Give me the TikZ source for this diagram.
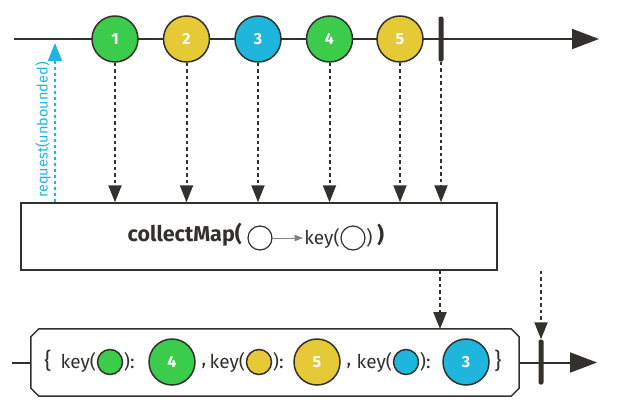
\documentclass[tikz,border=0pt]{standalone}
\usepackage{fontspec}
\setmainfont{Fira Sans}
\usetikzlibrary{positioning, arrows.meta}
\definecolor{mgreen}{HTML}{3ACC4A}
\definecolor{myellow}{HTML}{E5C936}
\definecolor{mblue}{HTML}{1FB6DE}
\definecolor{mdark}{HTML}{33312D}
\tikzset{
	marble/.style={draw=mdark, circle, line width=1.5pt, minimum size=46pt, inner sep=0pt, text=white, font=\bfseries\fontsize{16}{16}\selectfont},
	keymarble/.style={draw=mdark, circle, line width=1.5pt, minimum size=25pt, inner sep=0pt},
	hollow/.style={draw=mdark, circle, line width=1.2pt, minimum size=24pt, inner sep=0pt},
	stopbar/.style={fill=mdark, rectangle, rounded corners=2pt, minimum width=5pt, minimum height=45pt, inner sep=0pt},
	optext/.style={text=mdark, inner sep=0.5pt, font=\fontsize{19}{19}\selectfont},
	% dotted arrows between the lines and the operator
	flow/.style={draw=mdark, line width=2pt, dash pattern=on 3.5pt off 3pt, -{Triangle[width=13pt,length=17pt]}},
	timeline/.style={draw=mdark, line width=2pt, -{Triangle[width=20pt,length=27pt]}},
}
\begin{document}
\begin{tikzpicture}[x=1pt, y=-1pt]
	\useasboundingbox (0,0) rectangle (617,407);
	
	% source
	\coordinate (srcstart) at (14,39);
	\coordinate (srcend) at (599,39);
	\draw [timeline] (srcstart) -- (srcend);
	
	\node (m1) [marble, fill=mgreen] at (115,39) {1};
	\node (m2) [marble, fill=myellow, right=24pt of m1] {2};
	\node (m3) [marble, fill=mblue, right=24pt of m2] {3};
	\node (m4) [marble, fill=mgreen, right=24pt of m3] {4};
	\node (m5) [marble, fill=myellow, right=23pt of m4] {5};
	\node (end1) [stopbar] at (441,39) {};
	
	% operator
	\node (op) [draw=mdark, line width=1.5pt, rectangle, minimum width=476pt, minimum height=67pt] at (259,236.5) {};
	\node (opname) [text=mdark, font=\bfseries\fontsize{21.5}{21.5}\selectfont, anchor=east, inner sep=1pt] at (243,235) {collectMap(};
	\node (opin) [hollow] at (260,238) {};
	\node (opkey) [hollow] at (353,238) {};
	\node (opkeyl) [optext, anchor=east] at (opkey.west) {key(};
	\node (opkeyr) [optext, anchor=west] at (opkey.east) {)};
	\node (opclose) [text=mdark, font=\bfseries\fontsize{21.5}{21.5}\selectfont, anchor=west, inner sep=1pt] at (376,235) {)};
	\draw [gray, line width=1pt, -{Latex[length=9pt,width=7pt]}] (opin) -- (opkeyl);
	
	\begin{scope}[flow]
		\draw (m1) -- (m1 |- op.north);
		\draw (m2) -- (m2 |- op.north);
		\draw (m3) -- (m3 |- op.north);
		\draw (m4) -- (m4 |- op.north);
		\draw (m5) -- (m5 |- op.north);
		\draw (end1) -- (end1 |- op.north);
	\end{scope}
	
	% request
	\coordinate (req) at (55,43);
	\draw [draw=mblue, line width=1.6pt, dash pattern=on 3pt off 3pt, -{Triangle[width=14pt,length=18pt]}] (req |- op.north) -- (req);
	\node (reqlabel) [text=mblue, rotate=90, font=\fontsize{14.5}{14.5}\selectfont] at (43,130) {request(unbounded)};
	
	% result
	\node (out) [rectangle, minimum width=488pt, minimum height=67pt, inner sep=0pt] at (275,362.5) {};
	\draw [draw=mdark, line width=1.5pt] ([xshift=8pt]out.north west) -- ([xshift=-8pt]out.north east)
		-- ([yshift=-8pt]out.north east) -- ([yshift=8pt]out.south east)
		-- ([xshift=-8pt]out.south east) -- ([xshift=8pt]out.south west)
		-- ([yshift=8pt]out.south west) -- ([yshift=-8pt]out.north west) -- cycle;
	\coordinate (outstart) at (12,362.5);
	\coordinate (outend) at (597,362.5);
	\draw [draw=mdark, line width=2pt] (outstart) -- (out.west);
	\draw [timeline] (out.east) -- (outend);
	\node (end2) [stopbar] at (541,362) {};
	
	\node (lbrace) [optext, font=\fontsize{22}{22}\selectfont] at (48,361) {\{};
	\node (k1) [keymarble, fill=mgreen] at (110,362) {};
	\node (k1l) [optext, anchor=east] at (k1.west) {key(};
	\node (k1r) [optext, anchor=west] at (k1.east) {):};
	\node (v1) [marble, fill=mgreen] at (172,362) {4};
	\node (c1) [optext] at (204,366) {,};
	\node (k2) [keymarble, fill=myellow] at (259,362) {};
	\node (k2l) [optext, anchor=east] at (k2.west) {key(};
	\node (k2r) [optext, anchor=west] at (k2.east) {):};
	\node (v2) [marble, fill=myellow] at (317,362) {5};
	\node (c2) [optext] at (349,366) {,};
	\node (k3) [keymarble, fill=mblue] at (406,362) {};
	\node (k3l) [optext, anchor=east] at (k3.west) {key(};
	\node (k3r) [optext, anchor=west] at (k3.east) {):};
	\node (v3) [marble, fill=mblue] at (466,362) {3};
	\node (rbrace) [optext, font=\fontsize{22}{22}\selectfont] at (498,361) {\}};
	
	\begin{scope}[flow]
		\draw (op.south -| 440,0) -- (440,329);
		\draw (op.south -| end2) -- (end2.north);
	\end{scope}
\end{tikzpicture}
\end{document}
